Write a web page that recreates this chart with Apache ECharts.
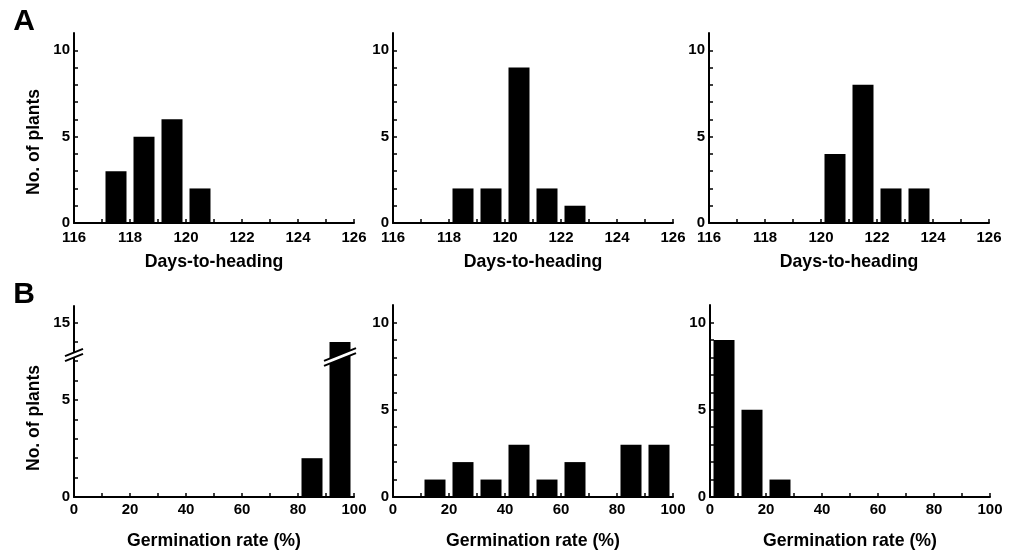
<!DOCTYPE html>
<html><head><meta charset="utf-8">
<script src="https://cdn.jsdelivr.net/npm/echarts@6/dist/echarts.min.js"></script>
<style>html,body{margin:0;padding:0;background:#fff}#c{width:1012px;height:552px}</style>
</head><body><div id="c"></div>
<script>
// ---- data ----
const dayBins = [116.5,117.5,118.5,119.5,120.5,121.5,122.5,123.5,124.5,125.5];
const a1Counts = [0,3,5,6,2,0,0,0,0,0];
const a2Counts = [0,0,2,2,9,2,1,0,0,0];
const a3Counts = [0,0,0,0,4,8,2,2,0,0];
const germBins = [5,15,25,35,45,55,65,75,85,95];
const b1Counts = [0,0,0,0,0,0,0,0,2,14];
const b2Counts = [0,1,2,1,3,1,2,0,3,3];
const b3Counts = [9,5,1,0,0,0,0,0,0,0];
const dayTicks = [116,117,118,119,120,121,122,123,124,125,126];
const dayTickLabels = [116,118,120,122,124,126];
const germTicks = [0,10,20,30,40,50,60,70,80,90,100];
const germTickLabels = [0,20,40,60,80,100];
const countTicks = [0,1,2,3,4,5,6,7,8,9,10];
const countTickLabels = [0,5,10];
const b1LowTicks = [0,1,2,3,4,5,6,7];
const b1LowLabels = [0,5];
const b1HighTicks = [14,15];
const b1HighLabels = [15];
const xTitleA = 'Days-to-heading';
const xTitleB = 'Germination rate (%)';
const yTitle = 'No. of plants';

const FONT = 'Liberation Sans, Arial, sans-serif';
const pairs = (xs, ys) => xs.map((x,i)=>[x, ys[i]]).filter(p=>p[1]>0);

const chart = echarts.init(document.getElementById('c'), null, {renderer:'canvas'});

const grids = [
  {left:74, top:33, width:280, height:190},
  {left:393, top:33, width:280, height:190},
  {left:709, top:33, width:280, height:190},
  {left:74, top:355, width:280, height:142},   // B1 lower
  {left:74, top:306, width:280, height:49},    // B1 upper
  {left:393, top:305, width:280, height:192},
  {left:710, top:305, width:280, height:192}
];

function xAx(gi, min, max, ticks, labels, name, gap, margin, show) {
  return {
    type:'value', gridIndex:gi, min, max, show: show !== false,
    name: name, nameLocation:'middle', nameGap: gap,
    nameTextStyle:{color:'#000', fontFamily:FONT, fontWeight:'bold', fontSize:17.7},
    axisLine:{show:true, onZero:false, lineStyle:{color:'#000', width:2}},
    axisTick:{show:true, inside:true, length:4, customValues:ticks, lineStyle:{color:'#000', width:1.5}},
    axisLabel:{show:true, customValues:labels, margin:margin, color:'#000', fontFamily:FONT, fontWeight:'bold', fontSize:15},
    splitLine:{show:false}
  };
}
function yAx(gi, min, max, ticks, labels) {
  return {
    type:'value', gridIndex:gi, min, max,
    axisLine:{show:true, onZero:false, lineStyle:{color:'#000', width:2}},
    axisTick:{show:true, inside:true, length:4, customValues:ticks, lineStyle:{color:'#000', width:1.5}},
    axisLabel:{show:true, customValues:labels, margin:4, color:'#000', fontFamily:FONT, fontWeight:'bold', fontSize:15},
    splitLine:{show:false}
  };
}

const xAxes = [
  xAx(0,116,126,dayTicks,dayTickLabels,xTitleA,30,7),
  xAx(1,116,126,dayTicks,dayTickLabels,xTitleA,30,7),
  xAx(2,116,126,dayTicks,dayTickLabels,xTitleA,30,7),
  xAx(3,0,100,germTicks,germTickLabels,xTitleB,35,5),
  xAx(4,0,100,germTicks,germTickLabels,'',0,5,false),
  xAx(5,0,100,germTicks,germTickLabels,xTitleB,35,5),
  xAx(6,0,100,germTicks,germTickLabels,xTitleB,35,5)
];
const b1LowMax = 7.32, b1HighMin = 13.316, b1HighMax = 15.895;
const yAxes = [
  yAx(0,0,11,countTicks,countTickLabels),
  yAx(1,0,11,countTicks,countTickLabels),
  yAx(2,0,11,countTicks,countTickLabels),
  yAx(3,0,b1LowMax,b1LowTicks,b1LowLabels),
  yAx(4,b1HighMin,b1HighMax,b1HighTicks,b1HighLabels),
  yAx(5,0,11,countTicks,countTickLabels),
  yAx(6,0,11,countTicks,countTickLabels)
];

function bar(i, data) {
  return {type:'bar', xAxisIndex:i, yAxisIndex:i, data, barWidth:21, clip:true,
    itemStyle:{color:'#000'}, silent:true, animation:false};
}
const series = [
  bar(0, pairs(dayBins,a1Counts)),
  bar(1, pairs(dayBins,a2Counts)),
  bar(2, pairs(dayBins,a3Counts)),
  bar(3, pairs(germBins,b1Counts)),
  bar(4, pairs(germBins,b1Counts)),
  bar(5, pairs(germBins,b2Counts)),
  bar(6, pairs(germBins,b3Counts))
];

chart.setOption({animation:false, grid:grids, xAxis:xAxes, yAxis:yAxes, series});

// ---- annotations: titles, panel letters, axis break ----
function txt(t, x, y, size, rot) {
  return {type:'text', x, y, rotation: rot||0, z:100,
    style:{text:t, fill:'#000', font:'bold '+size+'px '+FONT, textAlign:'center', textVerticalAlign:'middle'}};
}
function brk(cx, cy, L) {
  const s = 0.4, g = 5;
  const p = (dx, dy) => [cx+dx, cy+dy - dx*s];
  return [
    {type:'polygon', z:101, shape:{points:[p(-L,-g/2), p(L,-g/2), p(L,g/2), p(-L,g/2)]}, style:{fill:'#fff'}},
    {type:'line', z:102, shape:{x1:p(-L,-g/2)[0], y1:p(-L,-g/2)[1], x2:p(L,-g/2)[0], y2:p(L,-g/2)[1]}, style:{stroke:'#000', lineWidth:2}},
    {type:'line', z:102, shape:{x1:p(-L,g/2)[0], y1:p(-L,g/2)[1], x2:p(L,g/2)[0], y2:p(L,g/2)[1]}, style:{stroke:'#000', lineWidth:2}}
  ];
}
const axisPt = chart.convertToPixel({gridIndex:3}, [0, b1LowMax]);
const barPt = chart.convertToPixel({gridIndex:3}, [germBins[9], b1LowMax]);
const g = [
  txt('A', 24, 22, 30),
  txt('B', 24, 295, 30),
  txt(yTitle, 34, 142, 17.5, Math.PI/2),
  txt(yTitle, 34, 418, 17.5, Math.PI/2)
].concat(brk(axisPt[0], axisPt[1], 9), brk(barPt[0], barPt[1]+2, 16));
chart.setOption({graphic:g});
</script>
</body></html>
